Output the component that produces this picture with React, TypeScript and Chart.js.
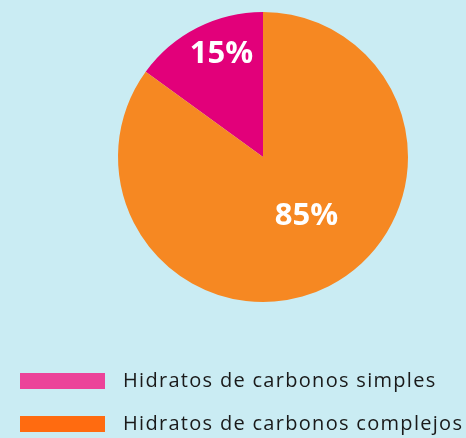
import React, { useEffect, useRef } from "react";
import { Chart, registerables } from "chart.js";

Chart.register(...registerables);

const categories = ["Hidratos de carbonos simples", "Hidratos de carbonos complejos"];
const values = [15, 85];
const valueLabels = ["15%", "85%"];
const sliceColors = ["#E2007A", "#F68822"];
const legendColors = ["#EC4399", "#FF6B10"];

const FONT = "'Open Sans', sans-serif";

const labelPlugin = {
  id: "sliceLabels",
  afterDatasetsDraw(chart: any) {
    const ctx = chart.ctx;
    const meta = chart.getDatasetMeta(0);
    const placement = [
      { r: 0.77, da: 0.09 },
      { r: 0.5, da: -0.17 },
    ];
    ctx.save();
    ctx.fillStyle = "#ffffff";
    ctx.font = `bold 31px ${FONT}`;
    ctx.textAlign = "center";
    ctx.textBaseline = "middle";
    meta.data.forEach((arc: any, i: number) => {
      const { x, y, startAngle, endAngle, outerRadius } = arc.getProps(
        ["x", "y", "startAngle", "endAngle", "outerRadius"],
        true
      );
      const mid = (startAngle + endAngle) / 2 + placement[i].da;
      const rr = outerRadius * placement[i].r;
      ctx.fillText(valueLabels[i], x + Math.cos(mid) * rr, y + Math.sin(mid) * rr + 1);
    });
    ctx.restore();
  },
};

const legendPlugin = {
  id: "customLegend",
  afterDraw(chart: any) {
    const ctx = chart.ctx;
    const labels = chart.data.labels as string[];
    ctx.save();
    ctx.font = `20px ${FONT}`;
    (ctx as any).letterSpacing = "1.3px";
    ctx.textBaseline = "middle";
    ctx.textAlign = "left";
    labels.forEach((lab, i) => {
      const cy = 381 + i * 43;
      ctx.fillStyle = legendColors[i];
      ctx.fillRect(20, cy - 8, 85, 16);
      ctx.fillStyle = "#1a1a1a";
      ctx.fillText(lab, 123, cy);
    });
    ctx.restore();
  },
};

export default function App() {
  const ref = useRef<HTMLCanvasElement>(null);
  useEffect(() => {
    document.body.style.margin = "0";
    document.body.style.background = "#CAECF3";
    const chart = new Chart(ref.current!, {
      type: "pie",
      data: {
        labels: categories,
        datasets: [
          {
            data: values,
            backgroundColor: sliceColors,
            borderWidth: 0,
          },
        ],
      },
      options: {
        animation: false,
        responsive: false,
        rotation: -54,
        layout: { padding: { top: 12, bottom: 136, left: 118, right: 58 } },
        plugins: {
          legend: { display: false },
          tooltip: { enabled: false },
        },
      },
      plugins: [labelPlugin, legendPlugin],
    });
    return () => chart.destroy();
  }, []);
  return (
    <div style={{ width: 466, height: 438, background: "#CAECF3" }}>
      <canvas ref={ref} width={466} height={438} style={{ display: "block" }} />
    </div>
  );
}
